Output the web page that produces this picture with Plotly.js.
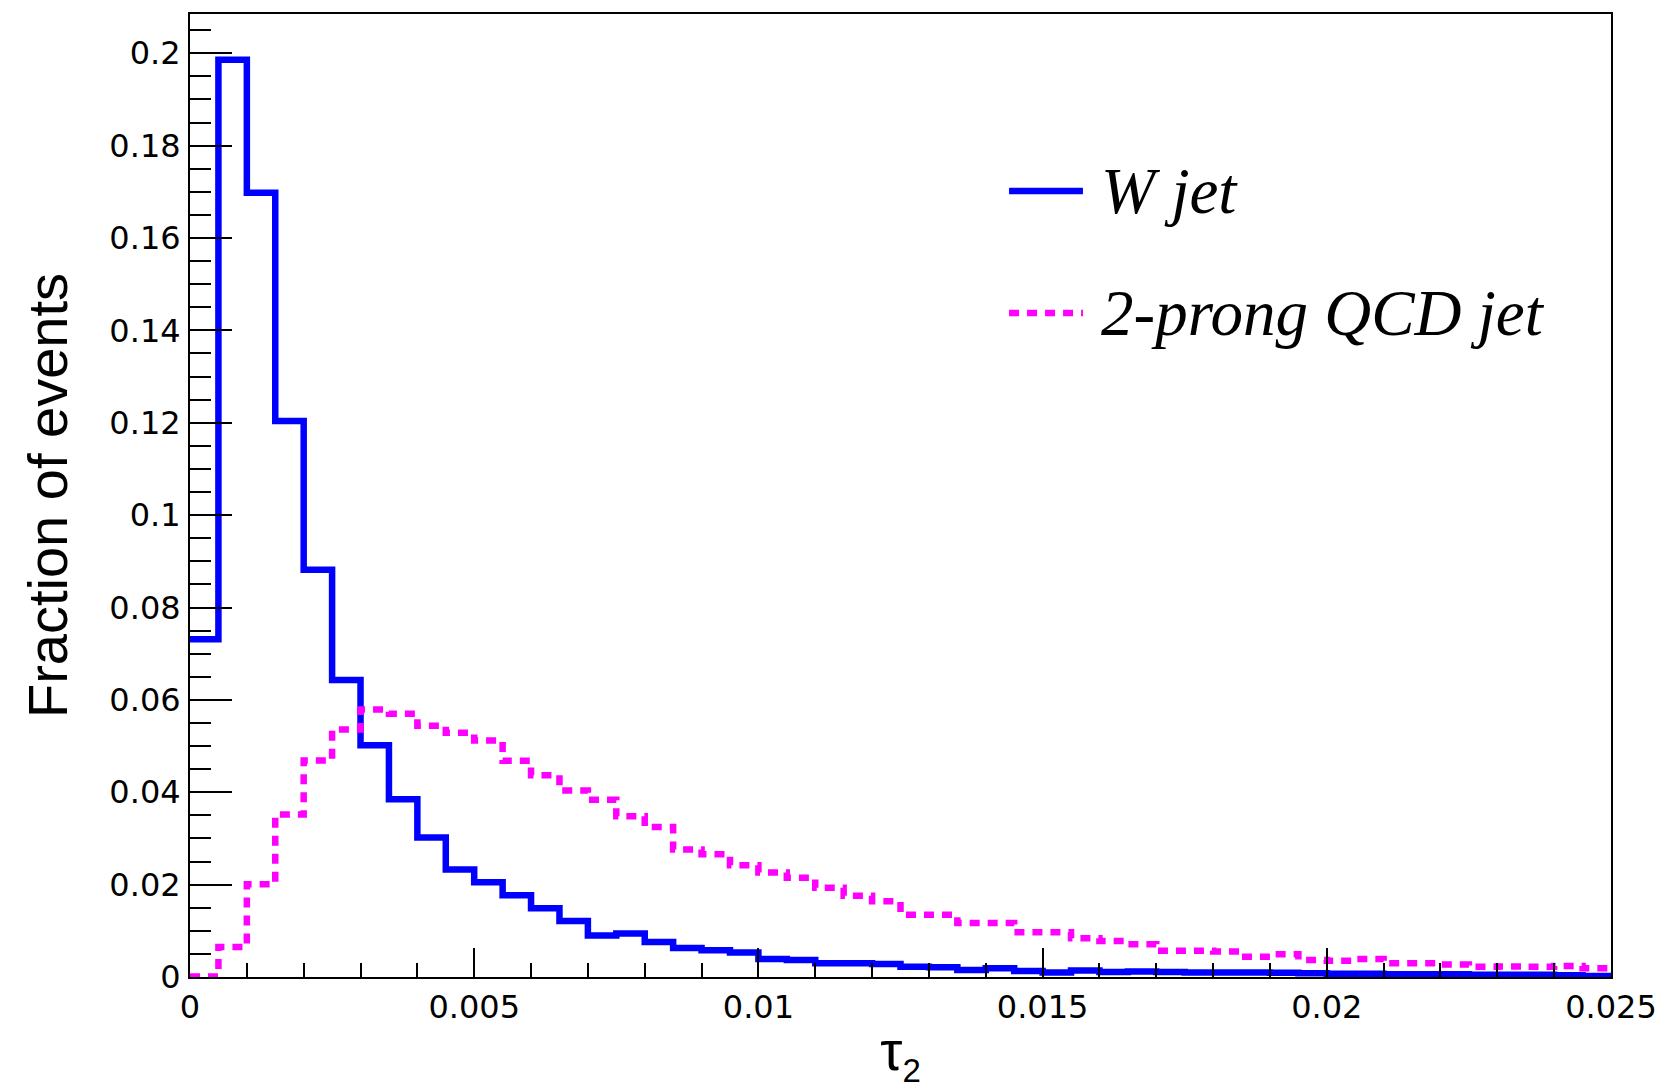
<!DOCTYPE html>
<html>
<head>
<meta charset="utf-8">
<script src="https://cdn.plot.ly/plotly-3.0.1.min.js"></script>
<style>
  html, body { margin: 0; padding: 0; background: #fff; }
  #chart { width: 1665px; height: 1089px; }
</style>
</head>
<body>
<div id="chart"></div>
<script>
// Histogram binning of tau_2: 50 bins of width 0.0005 over [0, 0.025]
const TAU_MIN = 0;
const TAU_MAX = 0.025;
const BIN_WIDTH = 0.0005;

// Series names
const W_NAME = 'W jet';
const QCD_NAME = '2-prong QCD jet';

// Fraction of events per bin, W jets
const wJet = [
  0.0731, 0.1986, 0.1698, 0.1204, 0.0882, 0.0643, 0.0502, 0.0385, 0.0302, 0.0233,
  0.0205, 0.0177, 0.0149, 0.0121, 0.0090, 0.0094, 0.0076, 0.0063, 0.0058, 0.0053,
  0.0039, 0.0037, 0.0030, 0.0030, 0.0028, 0.0022, 0.0021, 0.0015, 0.0019, 0.0013,
  0.0010, 0.0014, 0.0011, 0.0012, 0.0011, 0.0010, 0.0010, 0.0010, 0.0009, 0.0008,
  0.0007, 0.0007, 0.0006, 0.0006, 0.0006, 0.0005, 0.0005, 0.0005, 0.0004, 0.0002
];

// Fraction of events per bin, 2-prong QCD jets
const qcdJet = [
  0.0001, 0.0065, 0.0201, 0.0352, 0.0469, 0.0536, 0.0579, 0.0570, 0.0544, 0.0529,
  0.0512, 0.0468, 0.0437, 0.0404, 0.0384, 0.0348, 0.0325, 0.0276, 0.0266, 0.0242,
  0.0226, 0.0215, 0.0193, 0.0176, 0.0164, 0.0135, 0.0135, 0.0117, 0.0117, 0.0097,
  0.0097, 0.0084, 0.0078, 0.0071, 0.0057, 0.0057, 0.0055, 0.0044, 0.0049, 0.0037,
  0.0035, 0.0039, 0.0030, 0.0030, 0.0027, 0.0022, 0.0023, 0.0022, 0.0024, 0.0019
];

// Axis tick settings
const Y_MAX = 0.2085;
const X_DTICK = 0.005, X_MINOR = 0.001;
const Y_DTICK = 0.02, Y_MINOR = 0.005;

// Turn bin contents into a step outline: one point per lower bin edge,
// plus the upper edge of the last bin.
function stepOutline(values) {
  const x = values.map((_, i) => TAU_MIN + i * BIN_WIDTH);
  x.push(TAU_MIN + values.length * BIN_WIDTH);
  const y = values.concat([values[values.length - 1]]);
  return { x, y };
}

const BLUE = '#0000ff';
const MAGENTA = '#ff00ff';
const LINE_W = 6.5;
const DOT_DASH = '10px,8px';

const wStep = stepOutline(wJet);
const qStep = stepOutline(qcdJet);

const traces = [
  {
    type: 'scatter', mode: 'lines', name: W_NAME,
    x: wStep.x, y: wStep.y,
    line: { shape: 'hv', color: BLUE, width: LINE_W },
    hoverinfo: 'skip'
  },
  {
    type: 'scatter', mode: 'lines', name: QCD_NAME,
    x: qStep.x, y: qStep.y,
    line: { shape: 'hv', color: MAGENTA, width: LINE_W, dash: DOT_DASH },
    hoverinfo: 'skip'
  }
];

const tickFont = { family: 'DejaVu Sans, Liberation Sans, sans-serif', size: 32, color: '#000' };
const legendFont = { family: 'Liberation Serif, Times New Roman, serif', size: 65, color: '#000' };

const axisCommon = {
  showline: true, mirror: true, linecolor: '#000', linewidth: 2,
  showgrid: false, zeroline: false,
  ticks: 'inside', tickwidth: 2, tickcolor: '#000',
  tickfont: tickFont,
  fixedrange: true
};

// Legend placed in paper coordinates, top-right area of the frame
const LEG_X0 = 0.5764, LEG_X1 = 0.6284, LEG_TX = 0.6397;
const LEG_Y = [0.8162, 0.6895];

const layout = {
  width: 1665, height: 1089,
  margin: { l: 190, r: 54, t: 14, b: 112 },
  paper_bgcolor: '#fff', plot_bgcolor: '#fff',
  showlegend: false,
  xaxis: Object.assign({}, axisCommon, {
    range: [TAU_MIN, TAU_MAX],
    tick0: 0, dtick: X_DTICK, ticklen: 29,
    ticklabelstandoff: 1,
    minor: { tick0: 0, dtick: X_MINOR, ticks: 'inside', ticklen: 14.5, tickwidth: 2, tickcolor: '#000', showgrid: false },
    title: {
      text: 'τ<sub><span style="font-size:33px">2</span></sub>',
      font: { family: 'Liberation Sans, Arial, sans-serif', size: 56, color: '#000' },
      standoff: 14
    }
  }),
  yaxis: Object.assign({}, axisCommon, {
    range: [0, Y_MAX],
    tick0: 0, dtick: Y_DTICK, ticklen: 42,
    ticklabelstandoff: 1,
    minor: { tick0: 0, dtick: Y_MINOR, ticks: 'inside', ticklen: 21, tickwidth: 2, tickcolor: '#000', showgrid: false },
    title: {
      text: 'Fraction of events',
      font: { family: 'Liberation Sans, Arial, sans-serif', size: 56, color: '#000' },
      standoff: 24
    }
  }),
  shapes: [
    { type: 'line', xref: 'paper', yref: 'paper', x0: LEG_X0, x1: LEG_X1, y0: LEG_Y[0], y1: LEG_Y[0],
      line: { color: BLUE, width: LINE_W } },
    { type: 'line', xref: 'paper', yref: 'paper', x0: LEG_X0, x1: LEG_X1, y0: LEG_Y[1], y1: LEG_Y[1],
      line: { color: MAGENTA, width: LINE_W, dash: DOT_DASH } }
  ],
  annotations: [
    { xref: 'paper', yref: 'paper', x: LEG_TX, y: LEG_Y[0], xanchor: 'left', yanchor: 'middle',
      text: '<i>' + W_NAME + '</i>', showarrow: false, font: legendFont },
    { xref: 'paper', yref: 'paper', x: LEG_TX, y: LEG_Y[1], xanchor: 'left', yanchor: 'middle',
      text: '<i>' + QCD_NAME + '</i>', showarrow: false, font: legendFont }
  ]
};

Plotly.newPlot('chart', traces, layout, { displayModeBar: false, staticPlot: true });
</script>
</body>
</html>
